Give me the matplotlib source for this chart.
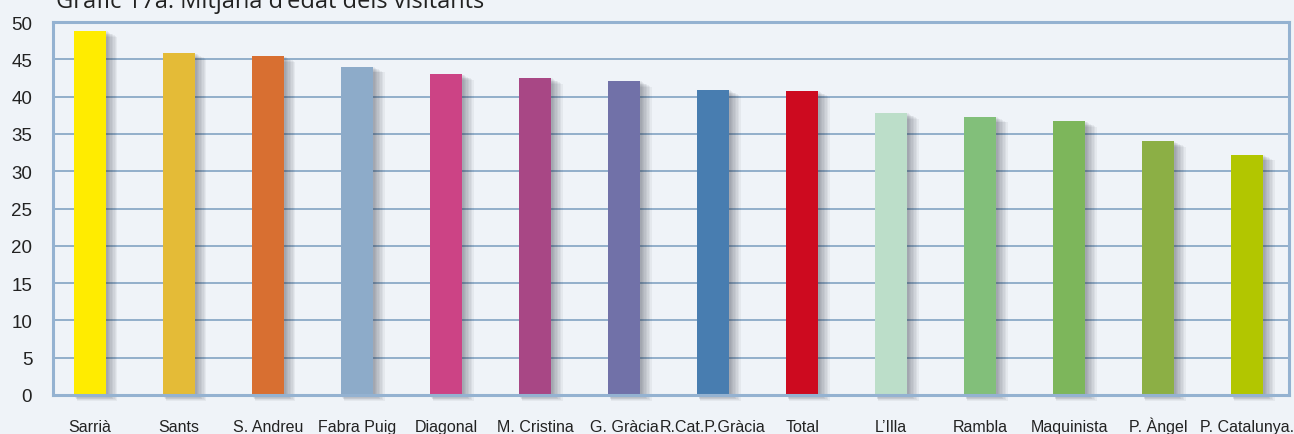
import numpy as np
import matplotlib.pyplot as plt

plt.rcParams["font.family"] = ["Liberation Sans Narrow", "Liberation Sans", "DejaVu Sans"]

# data
llocs = ["Sarrià", "Sants", "S. Andreu", "Fabra Puig", "Diagonal", "M. Cristina",
         "G. Gràcia", "R.Cat.P.Gràcia", "Total", "L\u2019Illa", "Rambla",
         "Maquinista", "P. Àngel", "P. Catalunya."]
edat = [48.8, 45.8, 45.4, 44.0, 43.0, 42.5, 42.1, 40.9, 40.75, 37.8, 37.3, 36.7, 34.0, 32.2]
colors = ["#ffec00", "#e4bb37", "#d86f31", "#8dabc9", "#cc4385", "#a84785",
          "#7171a8", "#487db0", "#cd0a1f", "#bcdec9", "#82bf7a", "#7db65b",
          "#8caf45", "#b2c600"]
yticks = list(range(0, 51, 5))

bg = "#eff3f8"
grid_c = "#8ba9c7"

fig = plt.figure(figsize=(12.94, 4.35), dpi=100, facecolor=bg)
ax = fig.add_axes([0.041, 0.0897, 0.9551, 0.8573])
ax.set_facecolor(bg)

x = np.arange(len(llocs))
w = 0.36

# soft drop shadow
for k in range(1, 9):
    ax.bar(x + 0.01 * k, np.array(edat) + 0.05, width=w + 0.012 * k,
           bottom=-0.1 * k, color="#1a2030", alpha=0.05, linewidth=0,
           zorder=2, clip_on=False)

ax.bar(x, edat, width=w, color=colors, linewidth=0, zorder=3)

ax.set_xlim(-0.416, 13.47)
ax.set_ylim(0, 50)
ax.set_yticks(yticks)
ax.set_xticks(x)
ax.set_xticklabels(llocs)
ax.tick_params(axis="x", length=0, pad=26, labelsize=11.5, colors="#222222")
for lab in ax.get_xticklabels():
    lab.set_va("baseline")
ax.tick_params(axis="y", length=0, pad=15, labelsize=13.5, colors="#222222")

ax.grid(axis="y", color=grid_c, linewidth=1.3, zorder=1)
ax.set_axisbelow(True)
for s in ax.spines.values():
    s.set_color("#94b2d1")
    s.set_linewidth(2.2)
    s.set_zorder(4)

fig.text(0.043, 1 - 8 / 435, "Gràfic 17a. Mitjana d\u2019edat dels visitants",
         fontsize=17, va="baseline", ha="left", color="#222222",
         family=["Open Sans", "DejaVu Sans"])

fig.savefig("out.png", dpi=100, facecolor=bg)
